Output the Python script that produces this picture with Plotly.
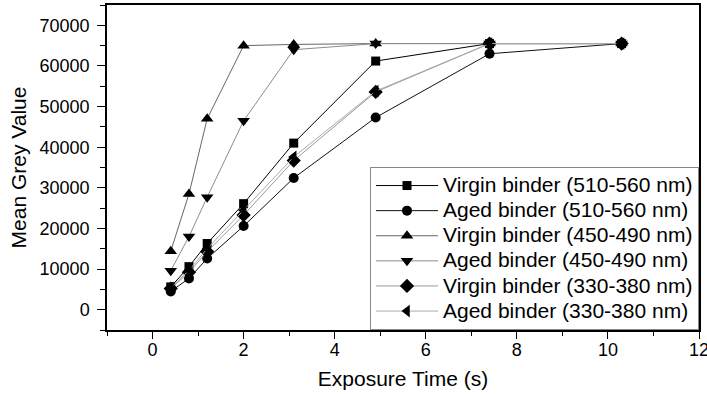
import plotly.graph_objects as go

exposure_time = [0.4, 0.8, 1.2, 2.0, 3.1, 4.9, 7.4, 10.3]
virgin_510_560 = [5600, 10600, 16300, 26100, 41000, 61200, 65500, 65500]
aged_510_560 = [4500, 7700, 12600, 20600, 32400, 47300, 63000, 65500]
virgin_450_490 = [14400, 28500, 47000, 65000, 65300, 65500, 65500, 65500]
aged_450_490 = [9600, 18000, 27700, 46500, 64000, 65500, 65500, 65500]
virgin_330_380 = [5200, 9200, 14300, 23300, 36700, 53600, 65500, 65500]
aged_330_380 = [5400, 9700, 15000, 24500, 37600, 53800, 65500, 65500]
x_tick_values = [0, 2, 4, 6, 8, 10, 12]
y_tick_values = [0, 10000, 20000, 30000, 40000, 50000, 60000, 70000]

series = [
    ("Virgin binder (510-560 nm)", virgin_510_560, "square", "#000000", 9),
    ("Aged binder (510-560 nm)", aged_510_560, "circle", "#111111", 10),
    ("Virgin binder (450-490 nm)", virgin_450_490, "triangle-up", "#666666", 11),
    ("Aged binder (450-490 nm)", aged_450_490, "triangle-down", "#8c8c8c", 11),
    ("Virgin binder (330-380 nm)", virgin_330_380, "diamond", "#999999", 11),
    ("Aged binder (330-380 nm)", aged_330_380, "triangle-left", "#aaaaaa", 11),
]

fig = go.Figure()
for name, ys, sym, lc, ms in series:
    fig.add_trace(go.Scatter(
        x=exposure_time, y=ys, mode="lines+markers",
        name='<span style="font-size:21px">' + name + "</span>",
        line=dict(color=lc, width=1),
        marker=dict(symbol=sym, size=ms, color="black", line=dict(width=0)),
    ))

font_family = "Arial, Liberation Sans, sans-serif"
fig.update_layout(
    width=707, height=394,
    margin=dict(l=107, r=8, t=5, b=64, autoexpand=False),
    paper_bgcolor="white", plot_bgcolor="white",
    font=dict(family=font_family, color="black", size=18),
    showlegend=True,
    legend=dict(
        x=1, y=0, xanchor="right", yanchor="bottom",
        bgcolor="white", bordercolor="#888888", borderwidth=1,
        font=dict(size=17, family=font_family, color="black"),
        itemwidth=62, tracegroupgap=0,
    ),
)
fig.update_xaxes(
    range=[-1, 12], tickmode="array", tickvals=x_tick_values,
    ticktext=[str(v) for v in x_tick_values],
    ticks="outside", ticklen=7, tickwidth=1.2, tickcolor="black",
    minor=dict(dtick=1, tick0=-1, ticks="outside", ticklen=4, tickwidth=1.2, tickcolor="black"),
    showline=True, linecolor="black", linewidth=1.5, mirror=True,
    showgrid=False, zeroline=False, automargin=False,
    tickfont=dict(size=18), ticklabeloverflow="allow", ticklabelstandoff=-4,
    title=dict(text="Exposure Time (s)", font=dict(size=21), standoff=12),
)
fig.update_yaxes(
    range=[-5000, 75000], tickmode="array", tickvals=y_tick_values,
    ticktext=[str(v) for v in y_tick_values],
    ticks="outside", ticklen=8, tickwidth=1.2, tickcolor="black",
    minor=dict(dtick=5000, tick0=-5000, ticks="outside", ticklen=5, tickwidth=1.2, tickcolor="black"),
    showline=True, linecolor="black", linewidth=1.5, mirror=True,
    showgrid=False, zeroline=False, automargin=False,
    tickfont=dict(size=18), ticklabelstandoff=4,
    title=dict(text="Mean Grey Value", font=dict(size=21), standoff=7),
)

fig.write_html("out.html")
